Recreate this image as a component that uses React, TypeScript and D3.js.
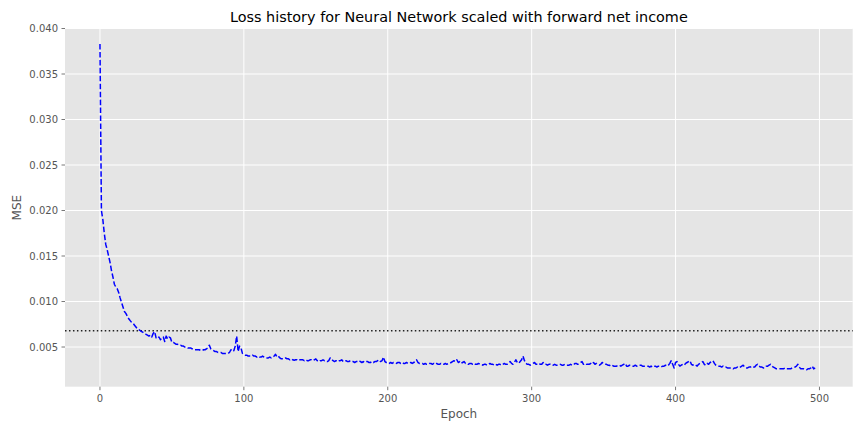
import React from "react";
import * as d3 from "d3";

const TITLE = "Loss history for Neural Network scaled with forward net income";
const X_LABEL = "Epoch";
const Y_LABEL = "MSE";

const X_TICKS = [0, 100, 200, 300, 400, 500];
const Y_TICKS = [0.005, 0.01, 0.015, 0.02, 0.025, 0.03, 0.035, 0.04];

const THRESHOLD = 0.0068;

const MSE: number[] = [
  0.0383, 0.0200, 0.0190, 0.0175, 0.0163, 0.0157, 0.0150, 0.0143, 0.0134, 0.0127,
  0.0119, 0.0116, 0.0114, 0.0110, 0.0104, 0.0099, 0.0094, 0.0089, 0.0087, 0.0084,
  0.0081, 0.0079, 0.0077, 0.0076, 0.0074, 0.0072, 0.0070, 0.0069, 0.0068, 0.0067,
  0.0066, 0.0065, 0.0064, 0.0063, 0.0062, 0.0063, 0.0061, 0.0065, 0.0067, 0.0060,
  0.0059, 0.0061, 0.0058, 0.0060, 0.0061, 0.0056, 0.0062, 0.0059, 0.0061, 0.0060,
  0.0055, 0.0055, 0.0054, 0.0053, 0.0053, 0.0052, 0.0052, 0.0051, 0.0051, 0.0050,
  0.0050, 0.0049, 0.0049, 0.0049, 0.0048, 0.0048, 0.0047, 0.0047, 0.0047, 0.0047,
  0.0046, 0.0046, 0.0047, 0.0047, 0.0048, 0.0049, 0.0052, 0.0048, 0.0047, 0.0046,
  0.0045, 0.0045, 0.0044, 0.0044, 0.0044, 0.0043, 0.0043, 0.0043, 0.0043, 0.0043,
  0.0044, 0.0047, 0.0045, 0.0046, 0.0051, 0.0062, 0.0045, 0.0051, 0.0049, 0.0043,
  0.0042, 0.0041, 0.0041, 0.0040, 0.0040, 0.0040, 0.0041, 0.0040, 0.0040, 0.0039,
  0.0040, 0.0039, 0.0039, 0.0040, 0.0039, 0.0038, 0.0038, 0.0038, 0.0039, 0.0038,
  0.0039, 0.0040, 0.0042, 0.0039, 0.0040, 0.0038, 0.0037, 0.0037, 0.0037, 0.0038,
  0.0037, 0.0037, 0.0036, 0.0037, 0.0036, 0.00355, 0.0036, 0.0036, 0.0035, 0.0036,
  0.0036, 0.0036, 0.0035, 0.0036, 0.0035, 0.0035, 0.0036, 0.0036, 0.0035, 0.0036,
  0.0037, 0.0035, 0.0034, 0.0035, 0.0035, 0.0036, 0.0035, 0.0035, 0.0034, 0.0035,
  0.0038, 0.0036, 0.0035, 0.0034, 0.0035, 0.0034, 0.0035, 0.0035, 0.0036, 0.0034,
  0.0035, 0.0035, 0.0034, 0.0034, 0.0035, 0.0034, 0.0034, 0.0033, 0.0034, 0.0034,
  0.0035, 0.0034, 0.0033, 0.0034, 0.0033, 0.0034, 0.0034, 0.0033, 0.0033, 0.0034,
  0.0033, 0.0034, 0.0034, 0.0035, 0.0036, 0.0034, 0.0035, 0.0039, 0.0034, 0.0033,
  0.0033, 0.0032, 0.0033, 0.0032, 0.0033, 0.0033, 0.0032, 0.0033, 0.0033, 0.0032,
  0.0033, 0.0032, 0.0032, 0.0033, 0.0032, 0.0032, 0.0033, 0.0032, 0.0033, 0.0034,
  0.0036, 0.0033, 0.0032, 0.0032, 0.0032, 0.0031, 0.0032, 0.0031, 0.0031, 0.0032,
  0.0032, 0.0031, 0.0032, 0.0031, 0.0032, 0.0031, 0.0031, 0.0032, 0.0031, 0.0031,
  0.0032, 0.0031, 0.0032, 0.0032, 0.0033, 0.0034, 0.0035, 0.0034, 0.0036, 0.0033,
  0.0034, 0.0032, 0.0033, 0.0034, 0.0032, 0.0032, 0.0031, 0.0032, 0.0032, 0.0031,
  0.0032, 0.0031, 0.0031, 0.0032, 0.0031, 0.0031, 0.0030, 0.0031, 0.0031, 0.0030,
  0.0031, 0.0032, 0.0031, 0.0031, 0.0030, 0.0031, 0.0030, 0.0031, 0.0031, 0.0030,
  0.0031, 0.0032, 0.0031, 0.0031, 0.0032, 0.0034, 0.0032, 0.0031, 0.0033, 0.0036,
  0.0033, 0.0032, 0.0034, 0.0036, 0.0040, 0.0035, 0.0032, 0.0031, 0.0031, 0.0030,
  0.0031, 0.0032, 0.0033, 0.0031, 0.0031, 0.0032, 0.0031, 0.0031, 0.0033, 0.0031,
  0.0031, 0.0030, 0.0031, 0.0031, 0.0030, 0.0030, 0.0031, 0.0030, 0.0030, 0.0030,
  0.0031, 0.0030, 0.0030, 0.0031, 0.0030, 0.0030, 0.0030, 0.0031, 0.0030, 0.0030,
  0.0032, 0.0032, 0.0031, 0.0032, 0.0033, 0.0034, 0.0031, 0.0032, 0.0031, 0.0031,
  0.0031, 0.0032, 0.0031, 0.0033, 0.0031, 0.0032, 0.0031, 0.0030, 0.0031, 0.0033,
  0.0032, 0.0031, 0.0031, 0.0030, 0.0030, 0.0029, 0.0030, 0.0029, 0.0029, 0.0029,
  0.0030, 0.0030, 0.0029, 0.0030, 0.0031, 0.0032, 0.0029, 0.0029, 0.0030, 0.0029,
  0.0029, 0.0029, 0.0030, 0.0029, 0.0029, 0.0030, 0.0030, 0.0029, 0.0029, 0.0029,
  0.0029, 0.0029, 0.0028, 0.0029, 0.0028, 0.0029, 0.0029, 0.0028, 0.0029, 0.0029,
  0.0028, 0.0029, 0.0029, 0.0030, 0.0029, 0.0030, 0.0032, 0.0035, 0.0031, 0.0027,
  0.0033, 0.0034, 0.0031, 0.0029, 0.0030, 0.0031, 0.0030, 0.0032, 0.0033, 0.0034,
  0.0035, 0.0031, 0.0030, 0.0031, 0.0030, 0.0029, 0.0031, 0.0032, 0.0033, 0.0034,
  0.0031, 0.0030, 0.0032, 0.0031, 0.0033, 0.0034, 0.0035, 0.0032, 0.0030, 0.0029,
  0.0029, 0.0029, 0.0028, 0.0029, 0.0028, 0.0028, 0.0027, 0.0027, 0.0027, 0.0027,
  0.0026, 0.0027, 0.0027, 0.0028, 0.0027, 0.0028, 0.0029, 0.0030, 0.0028, 0.0027,
  0.0027, 0.0028, 0.0028, 0.0029, 0.0028, 0.0028, 0.0030, 0.0031, 0.0029, 0.0028,
  0.0028, 0.0027, 0.0027, 0.0029, 0.0029, 0.0030, 0.0031, 0.0029, 0.0028, 0.0027,
  0.0026, 0.0026, 0.0026, 0.0026, 0.0026, 0.0026, 0.0027, 0.0026, 0.0026, 0.0026,
  0.0026, 0.0027, 0.0027, 0.0028, 0.0029, 0.0031, 0.0028, 0.0026, 0.0026, 0.0026,
  0.0025, 0.0025, 0.0026, 0.0026, 0.0027, 0.0029, 0.0026, 0.0027,
];

const W = 864;
const H = 432;
const M = { left: 65, right: 852.7, top: 28.5, bottom: 386.7 };
const FONT = "DejaVu Sans, sans-serif";
const TICK_COLOR = "#555555";

export default function App() {
  const data = MSE.map((v, i) => ({ epoch: i, mse: v }));
  const x = d3.scaleLinear().domain([-24.3, 523.1]).range([M.left, M.right]);
  const y = d3.scaleLinear().domain([0.00064, 0.04]).range([M.bottom, M.top]);

  const line = d3
    .line<{ epoch: number; mse: number }>()
    .x((d) => x(d.epoch))
    .y((d) => y(d.mse));

  const fmt = d3.format(".3f");

  return (
    <div style={{ position: "absolute", left: 0, top: 0 }}>
      <svg width={W} height={H} style={{ display: "block", background: "#ffffff" }}>
        <rect
          x={M.left}
          y={M.top}
          width={M.right - M.left}
          height={M.bottom - M.top}
          fill="#E5E5E5"
        />
        {/* grid */}
        {X_TICKS.map((t) => (
          <line
            key={"gx" + t}
            x1={x(t)}
            x2={x(t)}
            y1={M.top}
            y2={M.bottom}
            stroke="#ffffff"
            strokeWidth={1}
          />
        ))}
        {Y_TICKS.map((t) => (
          <line
            key={"gy" + t}
            x1={M.left}
            x2={M.right}
            y1={y(t)}
            y2={y(t)}
            stroke="#ffffff"
            strokeWidth={1}
          />
        ))}
        {/* ticks */}
        {X_TICKS.map((t) => (
          <g key={"tx" + t}>
            <line
              x1={x(t)}
              x2={x(t)}
              y1={M.bottom}
              y2={M.bottom + 3.5}
              stroke={TICK_COLOR}
              strokeWidth={0.8}
            />
            <text
              x={x(t)}
              y={M.bottom + 15.5}
              textAnchor="middle"
              fontFamily={FONT}
              fontSize={10}
              fill={TICK_COLOR}
            >
              {t}
            </text>
          </g>
        ))}
        {Y_TICKS.map((t) => (
          <g key={"ty" + t}>
            <line
              x1={M.left - 3.5}
              x2={M.left}
              y1={y(t)}
              y2={y(t)}
              stroke={TICK_COLOR}
              strokeWidth={0.8}
            />
            <text
              x={M.left - 7}
              y={y(t)}
              dy="0.36em"
              textAnchor="end"
              fontFamily={FONT}
              fontSize={10}
              fill={TICK_COLOR}
            >
              {fmt(t)}
            </text>
          </g>
        ))}
        {/* threshold */}
        <line
          x1={M.left}
          x2={M.right}
          y1={y(THRESHOLD)}
          y2={y(THRESHOLD)}
          stroke="#222222"
          strokeWidth={1.5}
          strokeDasharray="1.5,2.475"
        />
        {/* loss line */}
        <path
          d={line(data) || ""}
          fill="none"
          stroke="#0000FF"
          strokeWidth={1.5}
          strokeDasharray="5.55,2.4"
          strokeLinejoin="round"
        />
        {/* labels */}
        <text
          x={(M.left + M.right) / 2}
          y={22}
          textAnchor="middle"
          fontFamily={FONT}
          fontSize={14.4}
          fill="#000000"
        >
          {TITLE}
        </text>
        <text
          x={(M.left + M.right) / 2}
          y={418}
          textAnchor="middle"
          fontFamily={FONT}
          fontSize={12}
          fill={TICK_COLOR}
        >
          {X_LABEL}
        </text>
        <text
          transform={`translate(21, ${(M.top + M.bottom) / 2}) rotate(-90)`}
          textAnchor="middle"
          fontFamily={FONT}
          fontSize={12}
          fill={TICK_COLOR}
        >
          {Y_LABEL}
        </text>
      </svg>
    </div>
  );
}
